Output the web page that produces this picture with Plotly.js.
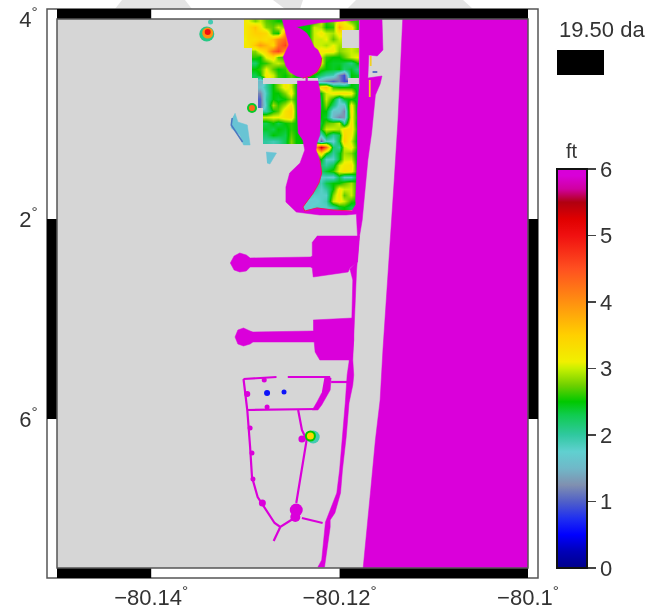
<!DOCTYPE html>
<html><head><meta charset="utf-8">
<script src="https://cdn.plot.ly/plotly-3.0.1.min.js"></script>
<style>html,body{margin:0;padding:0;background:#fff}#chart{width:654px;height:613px;filter:blur(0.5px)}</style>
</head><body><div id="chart"></div>
<script>
const n = null;
const xTickVals = [-80.14, -80.12, -80.10];
const xTickText = ['−80.14<sup>°</sup>', '−80.12<sup>°</sup>', '−80.1<sup>°</sup>'];
const yTickVals = [26.04, 26.02, 26.00];
const yTickText = ['4<sup>°</sup>', '2<sup>°</sup>', '6<sup>°</sup>'];
const ftTicks = [0, 1, 2, 3, 4, 5, 6];

// land elevation (ft) over the built-up area
const landLon = [-80.1300,-80.1297,-80.1290,-80.1284,-80.1278,-80.1271,-80.1265,-80.1258,-80.1252,-80.1246,-80.1239,-80.1233,-80.1227,-80.1220,-80.1214,-80.1207,-80.1201,-80.1195,-80.1188,-80.1182];
const landLat = [26.0398,26.0392,26.0386,26.0380,26.0374,26.0368,26.0362,26.0356,26.0350,26.0344,26.0338,26.0332,26.0326,26.0320,26.0314,26.0308,26.0302,26.0296,26.0290,26.0284,26.0278,26.0272,26.0266,26.0260,26.0254,26.0248,26.0242,26.0236,26.0230,26.0224,26.0218,26.0212];
const landFt = [
[3.2,3.1,2.8,3.0,2.7,2.6,2.5,2.5,2.7,2.5,2.5,2.5,2.5,3.0,2.6,2.8,3.2,3.1,2.7,2.6],
[3.2,3.3,3.6,3.2,2.8,2.7,3.0,2.8,3.0,2.5,2.5,2.5,3.0,2.9,2.5,2.6,3.8,3.3,3.2,2.6],
[3.2,3.3,3.5,3.5,3.4,2.6,2.5,3.9,3.2,2.5,2.5,2.5,3.0,3.2,3.0,2.9,3.2,n,n,n],
[3.1,3.3,3.3,3.4,3.3,3.6,4.0,4.3,3.3,2.5,2.5,2.5,3.0,3.0,3.1,2.7,3.0,n,n,n],
[3.2,3.2,3.6,3.9,3.7,3.4,4.2,4.6,3.5,2.5,2.5,2.5,3.0,3.0,2.9,3.1,2.9,n,n,n],
[n,n,2.8,3.2,3.5,4.3,4.6,3.9,3.3,2.5,2.5,2.5,3.0,3.2,3.2,3.2,2.8,2.9,3.0,2.9],
[n,n,2.6,2.5,3.1,3.3,2.7,2.6,3.4,2.5,2.5,2.5,3.0,3.0,2.6,2.5,2.5,2.7,3.0,3.1],
[n,n,2.2,2.5,2.6,2.9,3.0,2.8,3.0,2.5,2.5,2.5,3.0,3.1,2.5,2.4,2.4,2.3,2.1,2.5],
[n,n,2.5,2.6,3.1,2.7,2.5,2.6,3.1,2.5,2.5,2.5,3.0,2.6,2.5,2.4,2.5,2.2,2.4,2.1],
[n,n,2.3,2.5,3.2,3.0,2.6,2.5,2.7,2.5,2.5,2.5,2.5,2.2,2.0,1.9,1.2,0.9,2.5,2.4],
[n,n,n,1.5,n,n,n,n,n,n,n,n,n,1.4,1.2,1.0,1.2,0.9,n,n],
[n,n,n,1.6,2.0,2.5,2.8,3.2,3.0,2.5,2.5,2.5,2.5,3.4,3.6,2.6,2.5,2.5,2.5,2.4],
[n,n,n,1.2,1.9,2.5,2.5,2.8,3.2,2.5,2.5,2.5,2.5,2.5,3.0,3.2,3.3,3.3,3.2,2.4],
[n,n,n,1.0,2.0,2.5,2.4,2.5,2.8,2.5,2.5,2.5,2.5,2.4,3.0,2.5,1.8,2.4,2.5,2.4],
[n,n,n,1.0,1.9,2.9,2.6,2.9,3.3,2.5,2.5,2.5,2.5,2.4,2.8,2.2,1.7,1.6,3.2,2.4],
[n,n,n,n,2.0,2.5,2.7,3.3,3.5,2.5,2.5,2.5,2.5,2.5,2.5,1.6,1.6,1.2,3.3,2.4],
[n,n,n,n,3.0,3.1,3.1,3.3,3.4,2.5,2.5,2.5,2.5,2.5,2.4,1.5,1.2,1.3,3.2,2.5],
[n,n,n,n,2.3,2.5,2.3,2.5,2.6,2.5,2.5,2.5,2.5,2.4,2.7,2.8,3.0,2.0,3.3,2.4],
[n,n,n,n,2.4,2.3,2.5,2.4,2.6,2.5,2.5,2.5,2.5,2.5,3.0,3.0,2.9,3.3,3.3,2.5],
[n,n,n,n,2.2,2.5,2.4,2.3,2.7,2.5,2.5,2.5,2.5,1.8,2.5,2.0,2.3,3.4,3.2,2.4],
[n,n,n,n,2.0,1.9,2.0,2.3,2.8,2.5,2.5,2.5,2.5,1.0,1.8,1.7,2.4,3.5,3.0,2.4],
[n,n,n,n,n,n,n,n,n,n,n,2.5,3.5,5.3,4.3,2.2,2.0,3.0,3.2,2.5],
[n,n,n,n,n,n,n,n,n,n,n,n,2.5,3.4,2.6,2.0,2.4,2.9,2.8,2.4],
[n,n,n,n,n,n,n,n,n,n,n,n,2.5,2.5,1.8,1.8,2.4,3.0,3.0,2.4],
[n,n,n,n,n,n,n,n,n,n,n,n,2.5,2.2,2.0,2.3,3.0,3.2,3.3,2.4],
[n,n,n,n,n,n,n,n,n,n,n,n,2.5,2.2,2.4,2.6,3.1,3.3,3.2,2.5],
[n,n,n,n,n,n,n,n,n,n,n,n,2.5,1.8,1.8,1.7,2.3,1.8,1.8,2.5],
[n,n,n,n,n,n,n,n,n,n,n,n,2.2,1.9,2.3,2.5,2.5,2.7,2.9,2.5],
[n,n,n,n,n,n,n,n,n,n,n,n,2.0,1.8,2.0,2.5,3.2,3.0,3.0,2.5],
[n,n,n,n,n,n,n,n,n,n,n,1.9,1.8,1.8,1.8,2.8,3.3,2.7,3.0,2.5],
[n,n,n,n,n,n,n,n,n,n,1.8,1.7,1.7,1.8,1.9,3.0,3.2,3.0,2.6,2.5],
[n,n,n,n,n,n,n,n,n,n,1.7,1.7,1.8,1.8,1.8,2.0,2.4,2.5,2.3,2.3]
];

// small isolated spots (largest drawn first)
const spotLon = [-80.1293,-80.1293,-80.1277,-80.1259,-80.1228,-80.1231,-80.1231,-80.1337,-80.1341,-80.1340,-80.1340];
const spotLat = [26.0311,26.0311,26.0026,26.0027,25.9982,25.9983,25.9983,26.0397,26.0385,26.0386,26.0387];
const spotFt = [2.4,4.3,0.6,0.6,1.9,2.5,3.4,1.9,2.1,4.0,5.0];
const spotSize = [10,6,6,5,13,11,7,5,15,11,6];

// water outlines (≥ 6 ft), polygons separated by null
const oceanLon = [-80.1133,-80.1135,-80.1138,-80.1142,-80.1145,-80.1148,-80.1151,-80.1154,-80.1157,-80.1162,-80.1167,-80.1171,-80.1175,-80.10,-80.10];
const oceanLat = [26.04,26.0359,26.0299,26.0239,26.0199,26.0159,26.0119,26.0069,26.0019,25.9979,25.9929,25.9889,25.9851,25.9851,26.04];
const stripLon = [-80.1179,-80.1179,-80.1181,-80.1181,-80.1183,-80.1181,-80.1182,-80.1189,-80.1186,-80.1187,-80.1190,-80.1192,-80.1194,-80.1197,-80.1200,-80.1203,-80.1210,-80.1215,-80.1219,-80.1223,-80.1216,-80.1210,-80.1210,-80.1205,-80.1199,-80.1197,-80.1193,-80.1190,-80.1186,-80.1185,-80.1186,-80.1184,-80.1182,-80.1179,-80.1176,-80.1174,-80.1170,-80.1166,-80.1163,-80.1162,-80.1157,-80.1155,-80.1170,-80.1169,-80.1160,-80.1154,-80.1155];
const stripLat = [26.04,26.0334,26.0309,26.0269,26.0219,26.0183,26.0157,26.0150,26.0139,26.0101,26.0057,26.0044,26.0016,25.9982,25.9949,25.9926,25.9909,25.9897,25.9859,25.9852,25.9852,25.9892,25.9899,25.9906,25.9926,25.9949,25.9982,26.0016,26.0034,26.0044,26.0059,26.0102,26.0149,26.0182,26.0199,26.0219,26.0259,26.0286,26.0319,26.0324,26.0335,26.0343,26.0341,26.0364,26.0363,26.0369,26.04];
const dockLon = [-80.1224,-80.1179,-80.1181,-80.1189,-80.1191,-80.1228,-80.1229,-80.1231,-80.1295,-80.1299,-80.1306,-80.1312,-80.1316,-80.1312,-80.1306,-80.1299,-80.1295,-80.1231,-80.1229,-80.1229,n,
 -80.1228,-80.1186,-80.1185,-80.1187,-80.1221,-80.1226,-80.1227,-80.1292,-80.1295,-80.1302,-80.1308,-80.1311,-80.1308,-80.1302,-80.1295,-80.1292,-80.1228];
const dockLat = [26.0183,26.0183,26.0157,26.0151,26.0147,26.0142,26.0151,26.0152,26.0152,26.0148,26.0147,26.0149,26.0156,26.0163,26.0166,26.0164,26.0161,26.0162,26.0163,26.0177,n,
 26.0099,26.0101,26.0079,26.0059,26.0059,26.0067,26.0077,26.0077,26.0075,26.0073,26.0075,26.0082,26.0089,26.0091,26.0088,26.0087,26.0088];
const lakeLon = [-80.1261,-80.1257,-80.1254,-80.1260,-80.1257,-80.1253,-80.1246,-80.1239,-80.1231,-80.1224,-80.1220,-80.1219,-80.1223,-80.1227,-80.1231,-80.1235,-80.1241,-80.1246,-80.1223,-80.1195,-80.1179,-80.1179,n,
 -80.1245,-80.1223,-80.1221,-80.1220,-80.1221,-80.1224,-80.1225,-80.1221,-80.1219,-80.1222,-80.1228,-80.1239,-80.1237,-80.1224,-80.1207,-80.1187,-80.1183,-80.1181,-80.1182,-80.1193,-80.1221,-80.1246,-80.1257,-80.1257,-80.1253,-80.1242,-80.1237,-80.1239,-80.1244,-80.1245,-80.1245,n,
 -80.1216,-80.1209,-80.1210,-80.1219,-80.1223,-80.1229,-80.1224,-80.1219];
const lakeLat = [26.04,26.0384,26.0374,26.0362,26.0353,26.0347,26.0343,26.0341,26.0343,26.0347,26.0354,26.0361,26.0369,26.0372,26.0380,26.0386,26.0390,26.0392,26.0396,26.0398,26.0399,26.04,n,
 26.0338,26.0338,26.0329,26.0311,26.0284,26.0276,26.0269,26.0259,26.0246,26.0236,26.0226,26.0212,26.0208,26.0211,26.0209,26.0208,26.0214,26.0209,26.0205,26.0204,26.0204,26.0207,26.0217,26.0232,26.0246,26.0256,26.0269,26.0279,26.0286,26.0311,26.0334,n,
 26.0042,26.0041,26.0029,26.0014,26.0009,26.0009,26.0017,26.0026];
const canalLon = [-80.1302,-80.1267,n,-80.1255,-80.1210,n,-80.1302,-80.1298,-80.1295,-80.1293,-80.1287,-80.1269,-80.1263,-80.1248,n,-80.1240,-80.1218,n,-80.1263,-80.1270,n,-80.1246,-80.1239,-80.1235,-80.1240,-80.1244,n,-80.1298,-80.1223,n,-80.1209,-80.1191,n,-80.1235,-80.1235];
const canalLat = [26.0040,26.0042,n,26.0042,26.0042,n,26.0040,26.0009,25.9972,25.9942,25.9922,25.9896,25.9892,25.9901,n,25.9901,25.9896,n,25.9892,25.9878,n,25.9916,25.9959,25.9979,25.9989,26.0009,n,26.0009,26.0010,n,26.0037,26.0037,n,26.0343,26.0338];
const blobLon = [-80.1246,-80.1247,-80.1280,-80.1298,-80.1277,-80.1295,-80.1293,-80.1292,-80.1282,-80.1240];
const blobLat = [25.9909,25.9902,26.0039,26.0025,26.0012,25.9991,25.9966,25.9940,25.9916,25.9980];
const blobSize = [13,10,5,6,5,5,5,5,7,7];

// other features
const tealLon = [-80.1311,-80.1308,-80.1298,-80.1295,-80.1302,-80.1306,-80.1315,-80.1315,n,-80.1278,-80.1267,-80.1274,-80.1277];
const tealLat = [26.0306,26.0297,26.0294,26.0274,26.0274,26.0284,26.0291,26.0299,n,26.0267,26.0266,26.0255,26.0256];
const edgeLon = [-80.1314,-80.1315,-80.1303];
const edgeLat = [26.0301,26.0294,26.0277];
const rimLon = [-80.1221,-80.1219,-80.1222,-80.1228,-80.1239,-80.1237,-80.1224,-80.1207,-80.1187,n,-80.1239,-80.1231,-80.1224,-80.1220,-80.1219];
const rimLat = [26.0259,26.0246,26.0236,26.0226,26.0212,26.0208,26.0211,26.0209,26.0208,n,26.0341,26.0343,26.0347,26.0354,26.0361];
const yellowLon = [-80.1168,-80.1168,n,-80.1167,-80.1167];
const yellowLat = [26.0339,26.0322,n,26.0363,26.0353];
const blueLon = [-80.1165,-80.1160];
const blueLat = [26.0347,26.0347];

const MAG = '#da00da';
const W = 654, H = 613;
const fx = p => p / W, fy = p => 1 - p / H;
const colorscale = [
[0,'#00008a'],[0.0417,'#0000b8'],[0.0833,'#0000ff'],[0.125,'#2030f0'],[0.1667,'#5060c8'],[0.2083,'#8090b0'],
[0.25,'#70b8c8'],[0.2917,'#60d0d0'],[0.3333,'#30c8a0'],[0.3833,'#10cc50'],[0.4167,'#00c800'],[0.4583,'#70d000'],
[0.5,'#c8f000'],[0.5167,'#f0f000'],[0.5833,'#ffd000'],[0.6667,'#ff9010'],[0.75,'#ff5020'],[0.8333,'#f01010'],
[0.875,'#e00000'],[0.9167,'#b00010'],[0.95,'#d000a0'],[0.983,'#d800d8'],[1,'#d800d8']];

function poly(x, y, col) {
  return {type:'scatter', mode:'lines', x, y, fill:'toself', fillcolor:col, line:{color:col, width:0.5}, hoverinfo:'skip', showlegend:false};
}
function line(x, y, col, w) {
  return {type:'scatter', mode:'lines', x, y, line:{color:col, width:w}, connectgaps:false, hoverinfo:'skip', showlegend:false};
}
const traces = [
  {type:'heatmap', x:landLon, y:landLat, z:landFt, coloraxis:'coloraxis', zsmooth:'best', hoverinfo:'skip', showscale:false},
  poly(tealLon, tealLat, '#68c4d4'),
  line(edgeLon, edgeLat, '#4a78c0', 1.5),
  poly(oceanLon, oceanLat, MAG),
  poly(stripLon, stripLat, MAG),
  poly(dockLon, dockLat, MAG),
  poly(lakeLon, lakeLat, MAG),
  line(canalLon, canalLat, MAG, 2.2),
  {type:'scatter', mode:'markers', x:blobLon, y:blobLat, marker:{color:MAG, opacity:1, size:blobSize, line:{width:0}}, hoverinfo:'skip', showlegend:false},
  {type:'scatter', mode:'markers', x:spotLon, y:spotLat, marker:{color:spotFt, coloraxis:'coloraxis', opacity:1, size:spotSize, line:{width:0}}, hoverinfo:'skip', showlegend:false},
  line(rimLon, rimLat, '#e8205a', 1),
  line(yellowLon, yellowLat, '#f0d020', 1.8),
  line(blueLon, blueLat, '#3050c0', 1.5)
];

const frame = '#555';
function bar(o){ return Object.assign({type:'rect', layer:'above', fillcolor:'#000', line:{width:0}}, o); }
const shapes = [
  {type:'path', layer:'below', xref:'paper', yref:'paper', fillcolor:'#e4e4e4', line:{width:0}, path:`M${fx(115)},${fy(9)}L${fx(122)},${fy(0)}L${fx(185)},${fy(0)}L${fx(192)},${fy(9)}Z`},
  {type:'path', layer:'below', xref:'paper', yref:'paper', fillcolor:'#e4e4e4', line:{width:0}, path:`M${fx(285)},${fy(9)}L${fx(273)},${fy(0)}L${fx(303)},${fy(0)}L${fx(300)},${fy(9)}Z`},
  {type:'path', layer:'below', xref:'paper', yref:'paper', fillcolor:'#e4e4e4', line:{width:0}, path:`M${fx(347)},${fy(9)}L${fx(356)},${fy(0)}L${fx(463)},${fy(0)}L${fx(473)},${fy(9)}Z`},
  {type:'rect', layer:'below', xref:'paper', yref:'paper', x0:fx(47), x1:fx(538), y0:fy(578), y1:fy(9), fillcolor:'#fff', line:{color:frame, width:1.5}},
  {type:'rect', layer:'below', xref:'paper', yref:'paper', x0:fx(57), x1:fx(528), y0:fy(568), y1:fy(19), fillcolor:'#d6d6d6', line:{width:0}},
  bar({xref:'x', yref:'paper', x0:-80.15, x1:-80.14, y0:fy(19), y1:fy(9)}),
  bar({xref:'x', yref:'paper', x0:-80.12, x1:-80.10, y0:fy(19), y1:fy(9)}),
  bar({xref:'x', yref:'paper', x0:-80.15, x1:-80.14, y0:fy(578), y1:fy(568)}),
  bar({xref:'x', yref:'paper', x0:-80.12, x1:-80.10, y0:fy(578), y1:fy(568)}),
  bar({xref:'paper', yref:'y', x0:fx(47), x1:fx(57), y0:26.00, y1:26.02}),
  bar({xref:'paper', yref:'y', x0:fx(528), x1:fx(538), y0:26.00, y1:26.02}),
  {type:'rect', layer:'above', xref:'paper', yref:'paper', x0:fx(57), x1:fx(528), y0:fy(568), y1:fy(19), line:{color:frame, width:1.5}},
  bar({xref:'paper', yref:'paper', x0:fx(557), x1:fx(604), y0:fy(75), y1:fy(50)})
];

const font = {family:'"Liberation Sans", Arial, sans-serif', size:22, color:'#333'};
const layout = {
  width:W, height:H, margin:{l:0,r:0,t:0,b:0}, paper_bgcolor:'#fff', plot_bgcolor:'#d6d6d6', showlegend:false, font,
  xaxis:{domain:[fx(57),fx(528)], range:[-80.15,-80.10], tickmode:'array', tickvals:xTickVals, ticktext:xTickText,
    ticks:'outside', ticklen:10, tickcolor:'rgba(0,0,0,0)', showgrid:false, zeroline:false, showline:false, tickangle:0, tickfont:font},
  yaxis:{domain:[fy(568),fy(19)], range:[25.9851,26.04], tickmode:'array', tickvals:yTickVals, ticktext:yTickText,
    ticks:'outside', ticklen:14, tickcolor:'rgba(0,0,0,0)', showgrid:false, zeroline:false, showline:false, tickfont:font},
  coloraxis:{cmin:0, cmax:6, colorscale, colorbar:{
    x:fx(557), xanchor:'left', xpad:0, y:fy(568), yanchor:'bottom', ypad:0, lenmode:'fraction', len:(568-169)/H,
    thickness:30, thicknessmode:'pixels', outlinewidth:2, outlinecolor:'#111', borderwidth:0,
    tickmode:'array', tickvals:ftTicks, ticks:'outside', ticklen:8, tickwidth:1.5, tickcolor:'#444', tickfont:font, tickprefix:'\u00a0\u00a0\u00a0'}},
  shapes,
  annotations:[
    {xref:'paper', yref:'paper', x:fx(557), y:fy(30), xanchor:'left', yanchor:'middle', text:'19.50 da', showarrow:false, font},
    {xref:'paper', yref:'paper', x:fx(572), y:fy(151), xanchor:'center', yanchor:'middle', text:'ft', showarrow:false, font:Object.assign({},font,{size:20})}
  ]
};
Plotly.newPlot('chart', traces, layout, {displayModeBar:false, staticPlot:true});
</script></body></html>
